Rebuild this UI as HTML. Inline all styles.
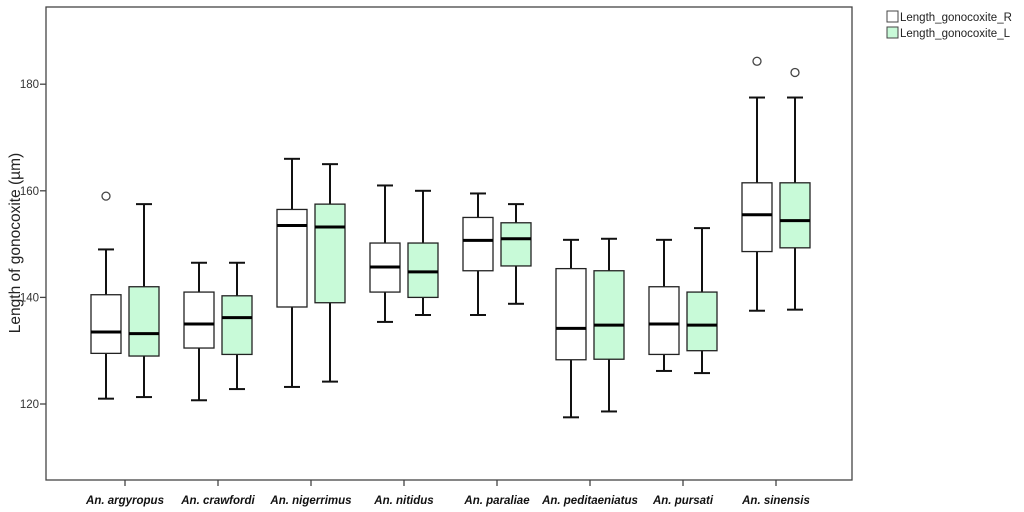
<!DOCTYPE html>
<html><head><meta charset="utf-8"><style>
body{margin:0;background:#fff;width:1024px;height:512px;overflow:hidden}
svg{display:block;font-family:"Liberation Sans",Arial,sans-serif}
</style></head><body>
<svg id="chart" width="1024" height="512">
  <rect x="46" y="7" width="806" height="473" fill="#fff" stroke="#444" stroke-width="1.3"/>
  <text transform="translate(20,243) rotate(-90)" text-anchor="middle" font-size="15.5" fill="#222">Length of gonocoxite (µm)</text>
  <g>
    <rect x="887" y="11" width="11" height="11" fill="#fff" stroke="#444"/>
    <text x="900" y="21" font-size="11.5" fill="#222">Length_gonocoxite_R</text>
    <rect x="887" y="27" width="11" height="11" fill="#c8fad8" stroke="#444"/>
    <text x="900" y="37" font-size="11.5" fill="#222">Length_gonocoxite_L</text>
  </g>
  <g id="marks"></g>
</svg>
<script>
const categories=["An. argyropus","An. crawfordi","An. nigerrimus","An. nitidus","An. paraliae","An. peditaeniatus","An. pursati","An. sinensis"];
const yTicks=[120,140,160,180];
// [min, q1, median, q3, max]
const seriesR=[[121,129.5,133.5,140.5,149],[120.7,130.5,135,141,146.5],[123.2,138.2,153.5,156.5,166],[135.4,141,145.7,150.2,161],[136.7,145,150.7,155,159.5],[117.5,128.3,134.2,145.4,150.8],[126.2,129.3,135,142,150.8],[137.5,148.6,155.5,161.5,177.5]];
const seriesL=[[121.3,129,133.2,142,157.5],[122.8,129.3,136.2,140.3,146.5],[124.2,139,153.2,157.5,165],[136.7,140,144.8,150.2,160],[138.8,145.9,151,154,157.5],[118.6,128.4,134.8,145,151],[125.8,130,134.8,141,153],[137.7,149.3,154.4,161.5,177.5]];
const outliersR=[[0,159],[7,184.3]];
const outliersL=[[7,182.2]];

const NS="http://www.w3.org/2000/svg";
const g=document.getElementById("marks");
const y=v=>404-(v-120)*5.33;
const x=i=>125+i*93;
function mk(tag,attrs){const e=document.createElementNS(NS,tag);for(const k in attrs)e.setAttribute(k,attrs[k]);g.appendChild(e);return e;}

yTicks.forEach(t=>{
  const l=mk("line",{x1:40,x2:46,y1:y(t),y2:y(t),stroke:"#444","stroke-width":1.3});
  
  
  const tx=mk("text",{x:39,y:y(t)+4,"text-anchor":"end","font-size":11.5,fill:"#333"});
  tx.textContent=t;
  
  
});
categories.forEach((c,i)=>{
  const l=mk("line",{x1:x(i),x2:x(i),y1:480,y2:486,stroke:"#444","stroke-width":1.3});
  
  
  const tx=mk("text",{x:x(i),y:504,"text-anchor":"middle","font-size":11.5,"font-weight":"bold","font-style":"italic",fill:"#111"});
  tx.textContent=c;
  
  
});
function box(i,d,off,fill,name){
  const cx=x(i)+off,w=30,sw=2;
  const a=mk("line",{x1:cx,x2:cx,y1:y(d[4]),y2:y(d[3]),stroke:"#111","stroke-width":sw});
  
  
  const b=mk("line",{x1:cx,x2:cx,y1:y(d[1]),y2:y(d[0]),stroke:"#111","stroke-width":sw});
  
  
  [d[0],d[4]].forEach(v=>{
    const c=mk("line",{x1:cx-8,x2:cx+8,y1:y(v),y2:y(v),stroke:"#111","stroke-width":sw});
    
    
  });
  const r=mk("rect",{x:cx-w/2,y:y(d[3]),width:w,height:y(d[1])-y(d[3]),fill:fill,stroke:"#222","stroke-width":1.3});
  
  
  const m=mk("line",{x1:cx-w/2,x2:cx+w/2,y1:y(d[2]),y2:y(d[2]),stroke:"#000","stroke-width":3});
  
  
}
categories.forEach((c,i)=>{
  box(i,seriesR[i],-19,"#fff","box-r");
  box(i,seriesL[i],19,"#c8fad8","box-l");
});
outliersR.forEach(o=>{
  const e=mk("circle",{cx:x(o[0])-19,cy:y(o[1]),r:4,fill:"#fff",stroke:"#444","stroke-width":1.3});
  
  
});
outliersL.forEach(o=>{
  const e=mk("circle",{cx:x(o[0])+19,cy:y(o[1]),r:4,fill:"#fff",stroke:"#444","stroke-width":1.3});
  
  
});
</script>
</body></html>
